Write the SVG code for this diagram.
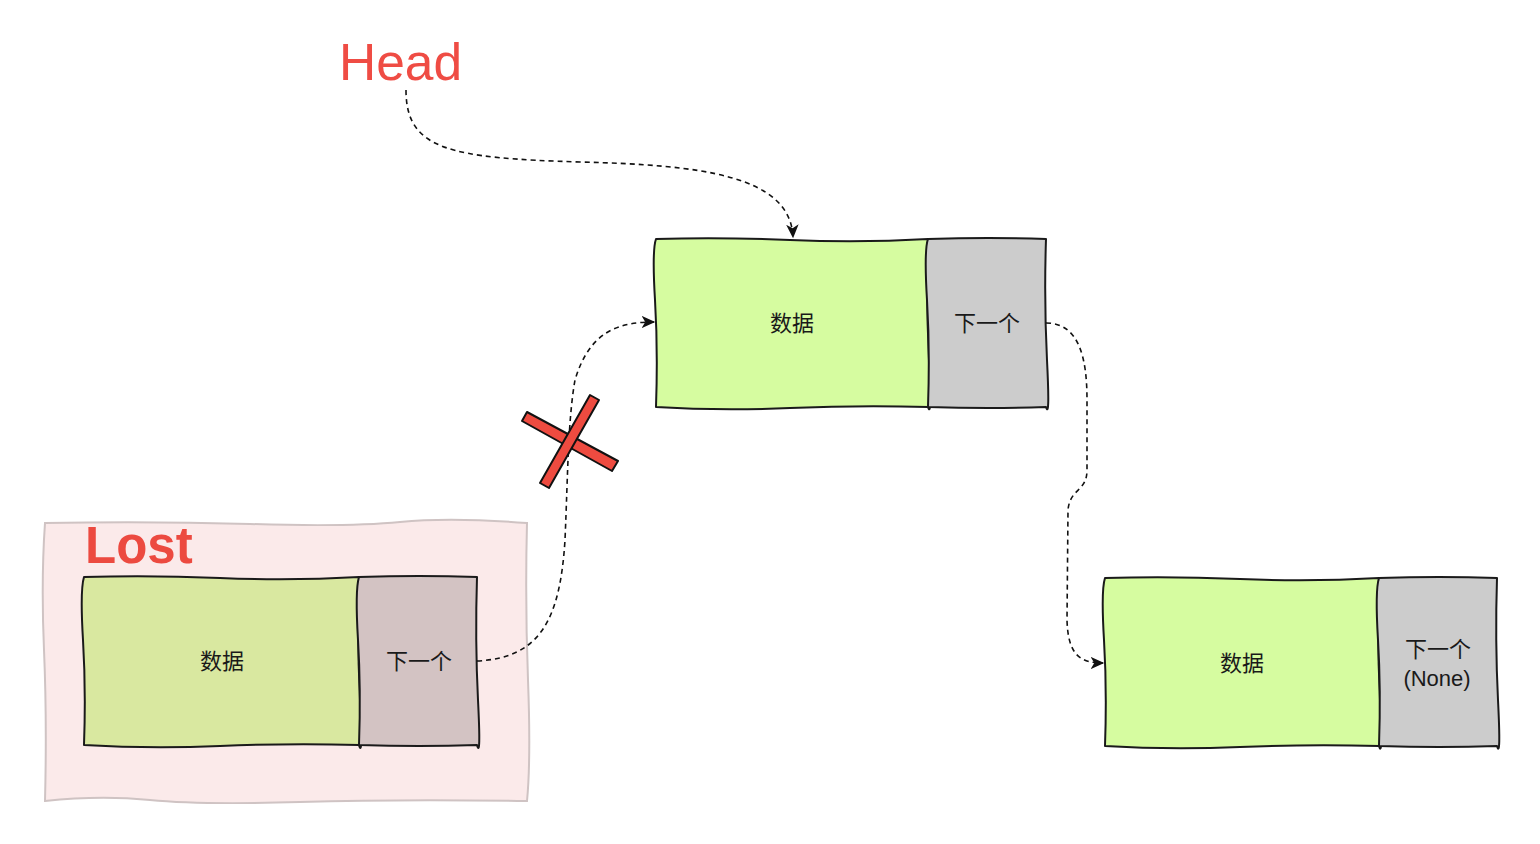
<svg xmlns="http://www.w3.org/2000/svg" width="1540" height="844" viewBox="0 0 1540 844">
<style>
.box{stroke:#1a1a1a;stroke-width:2;stroke-linejoin:round}
.data{fill:#d6fca0}
.next{fill:#cccccc}
.lbl{font-family:"Liberation Sans","Noto Sans CJK SC",sans-serif;font-size:22px;fill:#1a1a1a;text-anchor:middle}
.conn{fill:none;stroke:#111;stroke-width:1.6;stroke-dasharray:5,4}
.x{fill:#ee4b40;stroke:#111;stroke-width:2;stroke-linejoin:round}
</style>
<defs>
<marker id="arr" viewBox="0 0 12 12" refX="10" refY="6" markerWidth="15" markerHeight="15" markerUnits="userSpaceOnUse" orient="auto">
<path d="M0,1 L11,6 L0,11 L3,6 Z" fill="#111"/>
</marker>
</defs>
<rect width="1540" height="844" fill="#fff"/>

<g id="lost-group">
<path d="M45,523 Q150,521 250,524 T400,522 T527,523 Q525,600 528,680 T527,801 Q400,799 300,802 T150,800 T45,801 Q47,720 44,650 T45,523 Z" fill="#fbeaea" stroke="#cfc3c3" stroke-width="2"/>
<text x="85" y="563" font-family="Liberation Sans,Arial,sans-serif" font-size="51" font-weight="bold" fill="#ec4a40">Lost</text>
</g>

<g id="lost-node">
<path class="box" d="M84,577 Q150,575 220,578 T359,577 Q357,640 360,700 T359,745 Q290,743 220,746 T84,745 Q86,690 83,640 T84,577 Z" fill="#d9e8a0"/>
<path class="box" d="M359,577 Q420,575 477,577 Q475,640 478,700 T477,745 Q420,747 359,745 Q361,690 358,640 T359,577 Z" fill="#d3c3c3"/>
<text class="lbl" x="222" y="669">数据</text>
<text class="lbl" x="419" y="669">下一个</text>
</g>

<g id="node2">
<path class="box data" d="M656,239 Q720,237 790,240 T928,239 Q926,300 929,360 T928,407 Q860,405 790,408 T656,407 Q658,350 655,300 T656,239 Z"/>
<path class="box next" d="M928,239 Q990,237 1046,239 Q1044,300 1047,360 T1046,407 Q990,409 928,407 Q930,350 927,300 T928,239 Z"/>
<text class="lbl" x="792" y="331">数据</text>
<text class="lbl" x="987" y="331">下一个</text>
</g>

<g id="node3">
<path class="box data" d="M1105,578 Q1170,576 1240,579 T1379,578 Q1377,640 1380,700 T1379,746 Q1310,744 1240,747 T1105,746 Q1107,690 1104,640 T1105,578 Z"/>
<path class="box next" d="M1379,578 Q1440,576 1497,578 Q1495,640 1498,700 T1497,746 Q1440,748 1379,746 Q1381,690 1378,640 T1379,578 Z"/>
<text class="lbl" x="1242" y="671">数据</text>
<text class="lbl" x="1438" y="657">下一个</text>
<text class="lbl" x="1437" y="686">(None)</text>
</g>

<g id="head">
<text x="339" y="80" font-family="Liberation Sans,Arial,sans-serif" font-size="51.5" fill="#ef4c44">Head</text>
</g>

<g id="connectors">
<path class="conn" d="M406,90 C406,150 450,158 580,162 C700,165 790,175 793,237" marker-end="url(#arr)"/>
<path class="conn" d="M477,661 C540,658 560,620 565,540 C568,470 568,420 575,380 C590,330 620,322 654,322" marker-end="url(#arr)"/>
<path class="conn" d="M1046,323 C1080,323 1087,360 1087,400 L1087,470 C1087,492 1070,488 1068,510 L1067,620 C1068,655 1080,663 1103,663" marker-end="url(#arr)"/>
</g>

<g id="cross">
<path class="x" d="M527,412 L618,461 L612,471 L522,421 Z"/>
<path class="x" d="M590,395 L599,400 L549,488 L540,483 Z"/>
</g>
</svg>
